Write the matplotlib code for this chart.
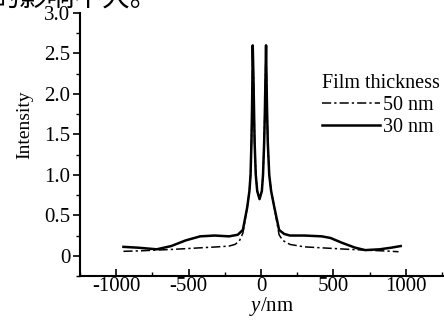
"""Intensity profile across y for two film thicknesses."""

import matplotlib

matplotlib.use("Agg")
import matplotlib.pyplot as plt
from matplotlib.ticker import MultipleLocator, FuncFormatter

plt.rcParams["font.family"] = ["Liberation Serif", "DejaVu Serif"]
plt.rcParams["mathtext.fontset"] = "custom"
plt.rcParams["mathtext.rm"] = "Liberation Serif"
plt.rcParams["mathtext.it"] = "Liberation Serif:italic"
plt.rcParams["axes.unicode_minus"] = False

# 30 nm film (solid)
y30 = [-950, -850, -720, -620, -520, -420, -320, -220, -160, -125, -95, -80,
       -72, -66, -62, -59, -57, -52, -48, -44, -36, -26, -10, 6, 14, 22, 27,
       31, 35, 38, 42, 47, 57, 70, 92, 125, 160, 200, 300, 420, 480, 560, 650,
       720, 820, 900, 965]
i30 = [0.11, 0.10, 0.08, 0.12, 0.19, 0.24, 0.25, 0.24, 0.26, 0.32, 0.60, 0.80,
       1.0, 1.4, 1.8, 2.2, 2.6, 2.2, 1.8, 1.4, 1.0, 0.8, 0.70, 0.8, 1.0, 1.4,
       1.8, 2.2, 2.6, 2.2, 1.8, 1.4, 1.0, 0.8, 0.60, 0.32, 0.27, 0.25, 0.25,
       0.24, 0.22, 0.16, 0.10, 0.07, 0.08, 0.10, 0.12]

# 50 nm film (dash-dot)
y50 = [-950, -850, -720, -600, -500, -400, -300, -220, -180, -150, -125, -95,
       -80, -72, -66, -62, -59, -57, -52, -48, -44, -36, -26, -10, 6, 14, 22,
       27, 31, 35, 38, 42, 47, 57, 70, 92, 125, 150, 200, 300, 400, 500, 600,
       720, 850, 950]
i50 = [0.055, 0.06, 0.07, 0.08, 0.09, 0.10, 0.11, 0.12, 0.14, 0.18, 0.28, 0.60,
       0.80, 1.0, 1.4, 1.8, 2.2, 2.6, 2.2, 1.8, 1.4, 1.0, 0.8, 0.70, 0.8, 1.0,
       1.4, 1.8, 2.2, 2.6, 2.2, 1.8, 1.4, 1.0, 0.8, 0.60, 0.26, 0.19, 0.14,
       0.11, 0.10, 0.09, 0.08, 0.07, 0.06, 0.05]

W, H = 444, 322
fig = plt.figure(figsize=(W / 100, H / 100), dpi=100)
ax = fig.add_axes([80 / W, 46 / H, 364 / W, 263 / H])

ax.plot(y50, i50, color="black", lw=1.1, dashes=(6, 2, 1.5, 2), label="50 nm")
ax.plot(y30, i30, color="black", lw=1.8, label="30 nm")

ax.set_xlim(-1250, 1264)
ax.set_ylim(-0.25, 3.0)
for side in ("top", "right"):
    ax.spines[side].set_visible(False)
for side in ("left", "bottom"):
    ax.spines[side].set_linewidth(1.5)

ax.xaxis.set_major_locator(MultipleLocator(500))
ax.xaxis.set_minor_locator(MultipleLocator(250))
ax.yaxis.set_major_locator(MultipleLocator(0.5))
ax.yaxis.set_minor_locator(MultipleLocator(0.25))
ax.yaxis.set_major_formatter(FuncFormatter(lambda v, p: "0" if abs(v) < 1e-9 else f"{v:.1f}"))
ax.tick_params(axis="x", which="both", direction="in", labelsize=15, pad=1)
ax.tick_params(axis="x", which="major", length=5, width=1.2)
ax.tick_params(axis="x", which="minor", length=3, width=1)
ax.tick_params(axis="y", which="both", direction="out", labelsize=15, pad=2)
ax.tick_params(axis="y", which="major", length=5, width=1.2)
ax.tick_params(axis="y", which="minor", length=3, width=1)

ax.set_ylabel("Intensity", fontsize=14)
ax.yaxis.set_label_coords(-0.128, 0.574)
ax.set_xlabel("$y$/nm", fontsize=15)
ax.xaxis.set_label_coords(0.527, -0.072)

leg = ax.legend(loc="upper left", bbox_to_anchor=(322 / W, 1 - 74 / H),
                bbox_transform=fig.transFigure, frameon=False, fontsize=14.5,
                title="Film thickness", title_fontsize=14.5, handlelength=2.9,
                handletextpad=0.15, labelspacing=0.15, borderpad=0, borderaxespad=0)
leg._legend_box.align = "left"

# clipped line of body text above the figure
fig.text(-8 / W, 1 - 6 / H, "的影响不大。", fontsize=20, va="baseline",
         family=["Noto Sans CJK SC", "DejaVu Sans"])

fig.savefig("out.png", dpi=100)
